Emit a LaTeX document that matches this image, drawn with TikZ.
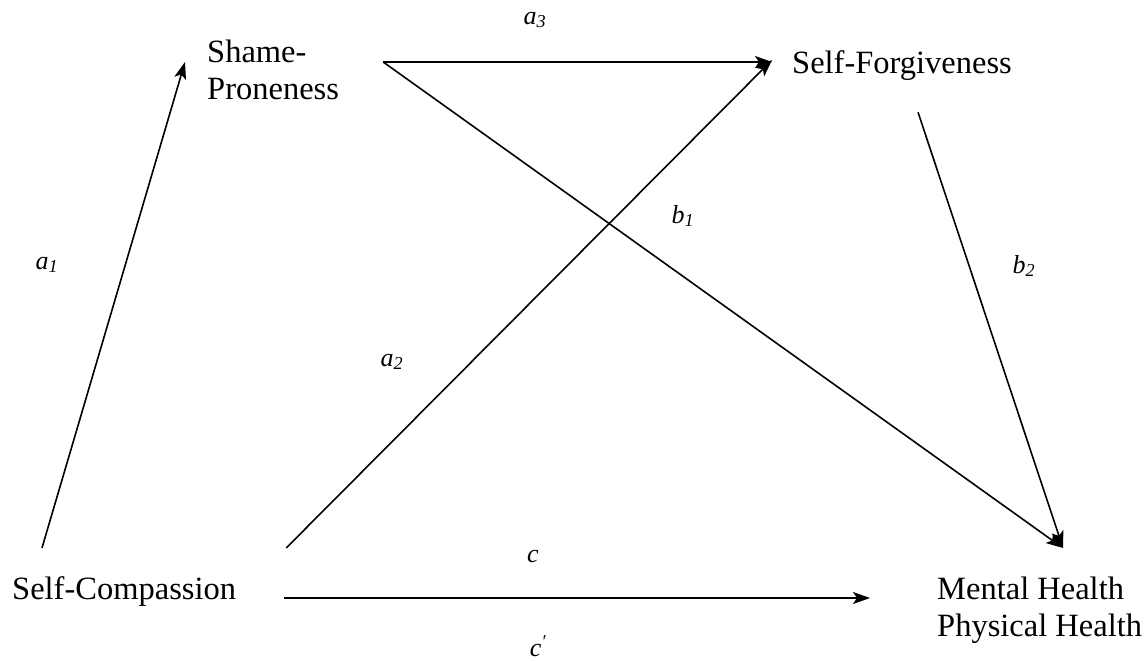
\documentclass[tikz,border=0pt]{standalone}
\usepackage{fontspec}
\setmainfont{Liberation Serif}
\usetikzlibrary{arrows.meta}
\tikzset{
  var/.style={inner sep=0pt, font=\fontsize{32.5}{37}\selectfont, align=left},
  coef/.style={inner sep=0pt, font=\fontsize{26}{30}\selectfont\itshape},
  path/.style={line width=1.6pt, -{Stealth[length=17pt,width=12pt,inset=4pt]}},
}
\begin{document}
\begin{tikzpicture}[x=1pt,y=-1pt]
\useasboundingbox (0,0) rectangle (1145,662);

\node[var, anchor=base west] (sc) at (12,599) {Self-Compassion};
\node[var, anchor=north west] (sp) at (207,40) {Shame-\\Proneness};
\node[var, anchor=base west] (sf) at (792,73) {Self-Forgiveness};
\node[var, anchor=north west] (mh) at (937,577) {Mental Health\\Physical Health};

\draw[path] ([xshift=30pt,yshift=28pt]sc.north west) -- ([xshift=-22pt,yshift=-22pt]sp.north west);
\draw[path] ([xshift=44pt,yshift=-22pt]sp.north east) -- ([xshift=-20pt]sf.west |- 0,62);
\draw[path] ([xshift=44pt,yshift=-22pt]sp.north east) -- ([xshift=126pt,yshift=29pt]mh.north west);
\draw[path] ([xshift=50pt,yshift=28pt]sc.north east) -- ([xshift=-20pt]sf.west |- 0,60);
\draw[path] ([xshift=126pt,yshift=-32pt]sf.south west) -- ([xshift=126pt,yshift=29pt]mh.north west);
\draw[path] ([xshift=48pt]sc.base east |- 0,598) -- ([xshift=-67pt]mh.west |- 0,598);

\node[coef] (la1) at (47,265) {a\textsubscript{1}};
\node[coef] (la2) at (392,362) {a\textsubscript{2}};
\node[coef] (la3) at (535,20) {a\textsubscript{3}};
\node[coef] (lb1) at (683,216) {b\textsubscript{1}};
\node[coef] (lb2) at (1024,266) {b\textsubscript{2}};
\node[coef] (lc) at (533,556) {c};
\node[coef] (lcp) at (538,646) {c\textsuperscript{′}};
\end{tikzpicture}
\end{document}
